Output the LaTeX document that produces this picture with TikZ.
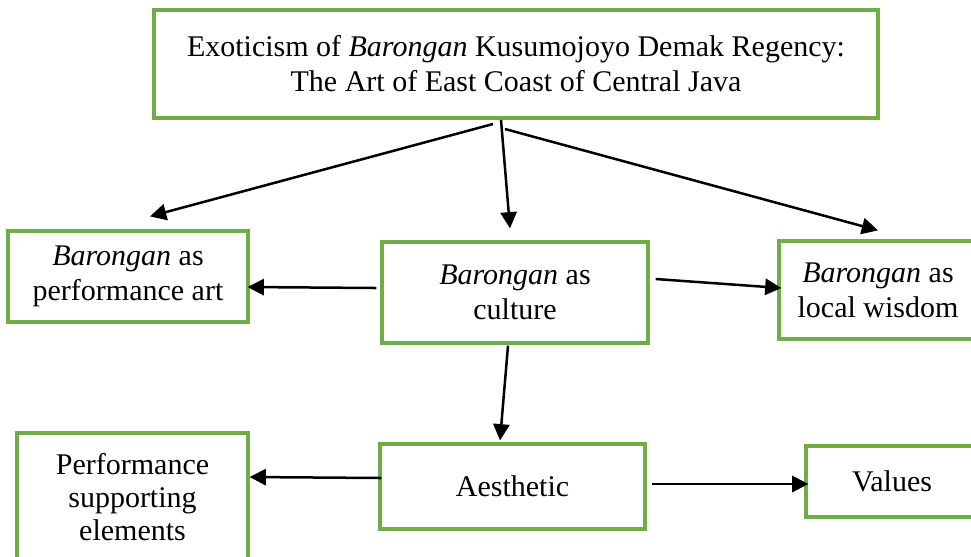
\documentclass[tikz,border=0pt]{standalone}
\usepackage{fontspec}
\setmainfont{Liberation Serif}
\usetikzlibrary{arrows.meta,calc}
\definecolor{cBox}{RGB}{112,173,71}
\tikzset{mybox/.style={
  shape=rectangle,
  draw=cBox,
  line width=1.3pt,
  inner sep=0pt,
  align=center,
  font=\fontsize{12}{14}\selectfont,
  text = black,
  }
}
\tikzset{myarrow/.style={
  draw=black,
  line width=1pt,
  -{Triangle[length=6.5pt,width=6.5pt]},
  }
}

\begin{document}
\begin{tikzpicture}[x=0.4pt,y=-0.4pt]
  \clip (0,0) rectangle (971,556);
  \node [mybox, minimum width=289.6pt, minimum height=43.2pt] (title) at (516,64)
    {Exoticism of \textit{Barongan} Kusumojoyo Demak Regency:\\ The Art of East Coast of Central Java};
  \node [mybox, minimum width=96pt, minimum height=36.4pt] (perf) at (128,276.5)
    {\textit{Barongan} as\\ performance art};
  \node [mybox, minimum width=106.4pt, minimum height=40.4pt] (cult) at (515,292.5)
    {\textit{Barongan} as\\ culture};
  \node [mybox, minimum width=79.2pt, minimum height=39.2pt] (wisdom) at (878,290)
    {\textit{Barongan} as\\ local wisdom};
  \node [mybox, minimum width=92.4pt, minimum height=51.2pt,
    font=\fontsize{12}{13.2}\selectfont] (support) at (132.5,497)
    {Performance\\ supporting\\ elements};
  \node [mybox, minimum width=106pt, minimum height=34pt] (aes) at (512.5,486.5) {Aesthetic};
  \node [mybox, minimum width=68.8pt, minimum height=28.4pt] (values) at (892,481.5) {Values};

  \coordinate (split) at (500,122);

  % from the title
  \draw [myarrow] ($(split)+(-7,2)$) -- ($(perf.north)+(22,-13)$);
  \draw [myarrow] ($(split)+(1,-2)$) -- ($(cult.north)+(-5,-12)$);
  \draw [myarrow] ($(split)+(5,7)$) -- ($(wisdom.north)+(0,-9)$);

  % from culture
  \draw [myarrow] ($(cult.west)+(-4,-4.5)$) -- ($(perf.east)+(-2,10.5)$);
  \draw [myarrow] ($(cult.east)+(6,-13.5)$) -- ($(wisdom.west)+(4,-2)$);
  \draw [myarrow] ($(cult.south)+(-7,1)$) -- ($(aes.north)+(-12.5,-2)$);

  % from aesthetic
  \draw [myarrow] ($(aes.west)+(3,-8.5)$) -- ($(support.east)+(0,-20)$);
  \draw [myarrow] ($(aes.east)+(5,-2.5)$) -- ($(values.west)+(4,2.5)$);
\end{tikzpicture}
\end{document}
